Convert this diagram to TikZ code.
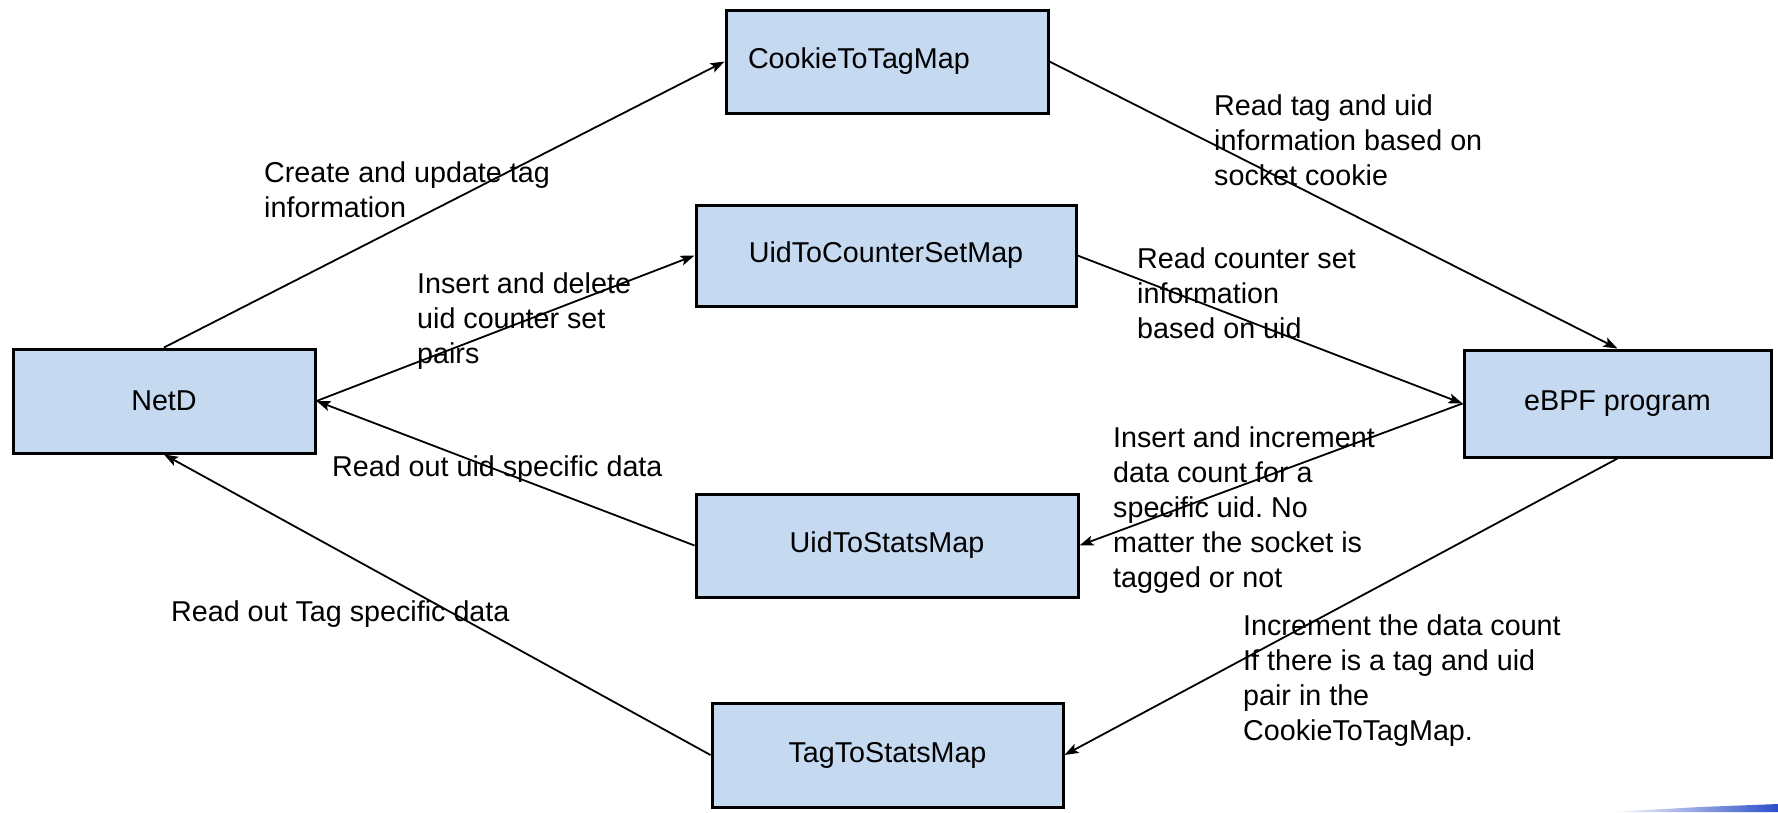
\documentclass[tikz,border=0pt]{standalone}
\usepackage{fontspec}
\setmainfont{Liberation Sans}
\usetikzlibrary{arrows.meta, positioning}
\definecolor{MapBlue}{HTML}{C5D9F1}
\definecolor{SlideBlue}{HTML}{2B4FC9}
\frenchspacing

\begin{document}
\begin{tikzpicture}[x=1pt, y=-1pt,
    every node/.style={font=\fontsize{28.7}{35}\selectfont},
    mapbox/.style={draw, line width=3pt, fill=MapBlue, inner sep=0pt},
    note/.style={anchor=base west, align=left, inner sep=0pt},
    link/.style={line width=1.8pt, -{Stealth[length=14pt, width=10pt, inset=3pt]}}]
    \useasboundingbox (0,0) rectangle (1778,812);
    % maps
    \node[mapbox, minimum width=322, minimum height=103, text width=278, align=left] (cookie) at (887,61.5) {CookieToTagMap};
    \node[mapbox, minimum width=380, minimum height=101] (uidset) at (886,255.5) {UidToCounterSetMap};
    \node[mapbox, minimum width=382, minimum height=103] (uidstats) at (887,545.5) {UidToStatsMap};
    \node[mapbox, minimum width=351, minimum height=104] (tagstats) at (887.5,755) {TagToStatsMap};
    % the two ends
    \node[mapbox, minimum width=302, minimum height=104] (netd) at (164,401) {NetD};
    \node[mapbox, minimum width=307, minimum height=107] (ebpf) at (1617.5,403.5) {eBPF program};

    \draw[link] (netd.north) -- (cookie.west);
    \draw[link] (netd.east) -- (uidset.west);
    \draw[link] (uidstats.west) -- (netd.east);
    \draw[link] (tagstats.west) -- (netd.south);
    \draw[link] (cookie.east) -- (ebpf.north);
    \draw[link] (uidset.east) -- (ebpf.west);
    \draw[link] (ebpf.west) -- (uidstats.east);
    \draw[link] (ebpf.south) -- (tagstats.east);

    % labels, placed by the baseline of their last line
    \node[note] (createlbl) at (264,217) {Create and update tag\\information};
    \node[note] (insdellbl) at (417,363) {Insert and delete\\uid counter set\\pairs};
    \node[note] (readuidlbl) at (332,476) {Read out uid specific data};
    \node[note] (readtaglbl) at (171,621) {Read out Tag specific data};
    \node[note] (readcookielbl) at (1214,185) {Read tag and uid\\information based on\\socket cookie};
    \node[note] (readsetlbl) at (1137,338) {Read counter set\\information\\based on uid};
    \node[note] (incuidlbl) at (1113,587) {Insert and increment\\data count for a\\specific uid. No\\matter the socket is\\tagged or not};
    \node[note] (inctaglbl) at (1243,740) {Increment the data count\\If there is a tag and uid\\pair in the\\CookieToTagMap.};

    % slide edge
    \shade[left color=white, right color=SlideBlue] (1610,812) -- (1700,807) -- (1778,804) -- (1778,812) -- cycle;
\end{tikzpicture}
\end{document}
